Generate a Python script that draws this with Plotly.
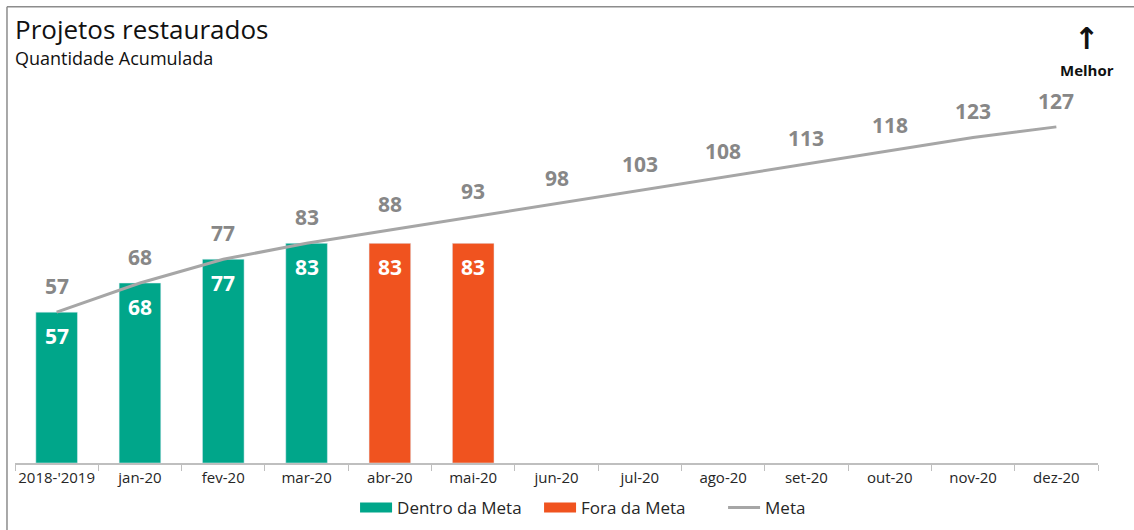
import plotly.graph_objects as go

categories = ["2018-'2019", "jan-20", "fev-20", "mar-20", "abr-20", "mai-20", "jun-20",
              "jul-20", "ago-20", "set-20", "out-20", "nov-20", "dez-20"]
dentro_da_meta = [57, 68, 77, 83, None, None, None, None, None, None, None, None, None]
fora_da_meta = [None, None, None, None, 83, 83, None, None, None, None, None, None, None]
meta = [57, 68, 77, 83, 88, 93, 98, 103, 108, 113, 118, 123, 127]

FONT = "Open Sans"
GREEN = "#00A68A"
ORANGE = "#F0531F"
GRAY = "#A6A6A6"

fig = go.Figure()
fig.add_trace(go.Bar(x=categories, y=dentro_da_meta, name="Dentro da Meta", marker_color=GREEN,
                     width=0.5, showlegend=False, legendgroup="d"))
fig.add_trace(go.Bar(x=categories, y=fora_da_meta, name="Fora da Meta", marker_color=ORANGE,
                     width=0.5, showlegend=False, legendgroup="f"))
fig.add_trace(go.Scatter(x=categories, y=meta, name="Meta", mode="lines",
                         line=dict(color=GRAY, width=3), showlegend=False, legendgroup="m"))

# legend entries (wide rectangular swatches like the original)
for name, col, w, grp in [("Dentro da Meta", GREEN, 12, "d"), ("Fora da Meta", ORANGE, 12, "f"),
                          ("Meta", GRAY, 3, "m")]:
    fig.add_trace(go.Scatter(x=[None], y=[None], mode="lines", name=name, legendgroup=grp,
                             line=dict(color=col, width=w), showlegend=True))

annotations = []
for c, v in zip(categories, meta):
    annotations.append(dict(x=c, y=v, xref="x", yref="y", text=f"<b>{v}</b>", showarrow=False,
                            yanchor="middle", yshift=26,
                            font=dict(family=FONT, size=21, color="#878787")))
for series in (dentro_da_meta, fora_da_meta):
    for c, v in zip(categories, series):
        if v is not None:
            annotations.append(dict(x=c, y=v, xref="x", yref="y", text=f"<b>{v}</b>", showarrow=False,
                                    yanchor="middle", yshift=-24,
                                    font=dict(family=FONT, size=21, color="white")))

annotations += [
    dict(text="Projetos restaurados", xref="paper", yref="paper", x=-0.002, y=1.092,
         xanchor="left", yanchor="middle", showarrow=False,
         font=dict(family=FONT, size=26, color="#111111")),
    dict(text="Quantidade Acumulada", xref="paper", yref="paper", x=-0.002, y=1.02,
         xanchor="left", yanchor="middle", showarrow=False,
         font=dict(family=FONT, size=18, color="#111111")),
    dict(text="<b>↑</b>", xref="paper", yref="paper", x=0.9898, y=1.07,
         xanchor="center", yanchor="middle", showarrow=False,
         font=dict(family="DejaVu Sans", size=30, color="#111111")),
    dict(text="<b>Melhor</b>", xref="paper", yref="paper", x=0.9898, y=0.99,
         xanchor="center", yanchor="middle", showarrow=False,
         font=dict(family=FONT, size=15, color="#111111")),
]

fig.update_layout(
    width=1134, height=530,
    margin=dict(l=15, r=36, t=66, b=67, autoexpand=False),
    plot_bgcolor="white", paper_bgcolor="white",
    barmode="overlay",
    font=dict(family=FONT, size=14, color="#404040"),
    showlegend=True,
    legend=dict(orientation="h", x=0.314, xanchor="left", y=-0.113, yanchor="middle",
                font=dict(family=FONT, size=17, color="#262626"), traceorder="normal",
                itemwidth=32, entrywidth=137),
    xaxis=dict(showline=True, linecolor="#BFBFBF", linewidth=1.5, ticks="outside",
               tickson="boundaries", ticklen=6, tickcolor="#BFBFBF", tickangle=0,
               tickfont=dict(family=FONT, size=15, color="#262626"), showgrid=False,
               range=[-0.5, 12.5]),
    yaxis=dict(visible=False, range=[0, 150], showgrid=False),
    annotations=annotations,
    shapes=[
        dict(type="line", xref="paper", yref="paper", x0=-0.0074, x1=-0.0074, y0=1.149, y1=-0.2,
             line=dict(color="#8C8C8C", width=1.5)),
        dict(type="line", xref="paper", yref="paper", x0=-0.0074, x1=1.04, y0=1.149, y1=1.149,
             line=dict(color="#8C8C8C", width=1.5)),
    ],
)

fig.write_html("out.html", config={"displayModeBar": False},
               post_script="document.body.style.margin='0px';")
